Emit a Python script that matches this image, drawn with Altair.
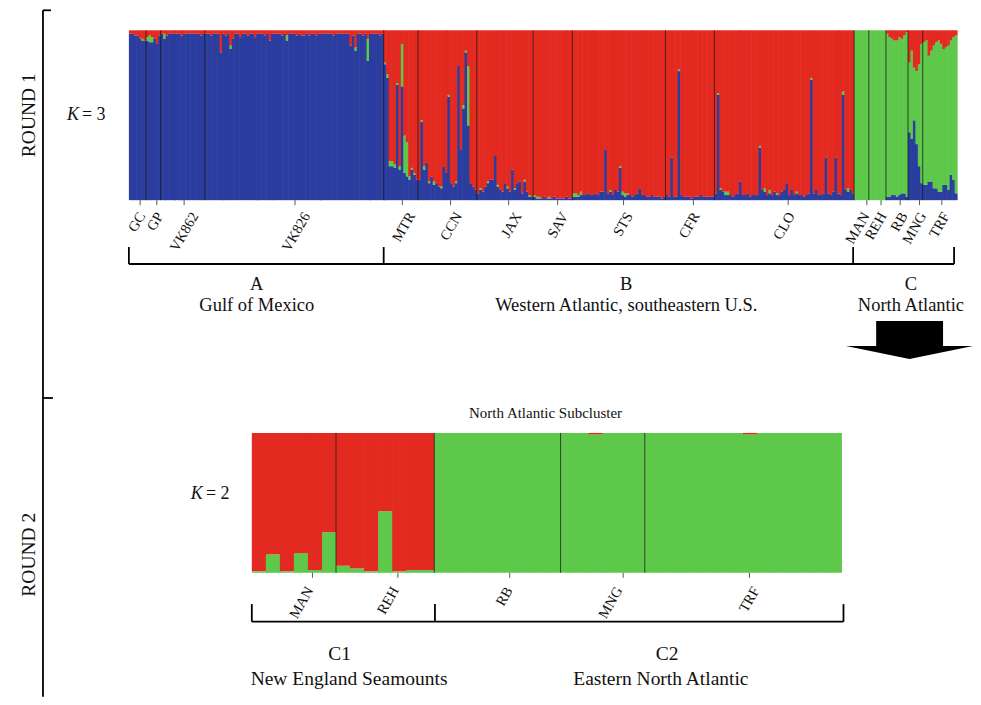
import altair as alt
import pandas as pd

BLUE, GREEN, RED = "#2b3d9e", "#5ec84b", "#e32a20"
FONT = "Liberation Serif"
INK = "#111111"

# ---------------- Round 1 (K = 3) : ancestry proportions in % ----------------
pops1 = ["GC", "GP", "VK862", "VK826", "MTR", "CCN", "JAX", "SAV", "STS",
         "CFR", "CLO", "MAN", "REH", "RB", "MNG", "TRF"]

blue1 = {
    "GC": [98, 98, 97, 97, 95, 94, 94],
    "GP": [94, 93, 93, 95, 92, 97],
    "VK862": [98, 95, 97, 98, 98, 98, 98, 98, 97, 98, 98, 98, 98, 98, 98, 98, 97, 98],
    "VK826": [98, 98, 97, 98, 98, 98, 87, 98, 97, 98, 89, 95, 98, 98, 96, 98, 98, 97, 98, 98,
              96, 98, 98, 98, 97, 98, 94, 98, 98, 98, 98, 97, 98, 94, 98, 98, 98, 97, 98, 97,
              97, 98, 97, 98, 98, 97, 98, 98, 98, 98, 98, 98, 97, 98, 98, 98, 98, 98, 98, 91,
              97, 88, 98, 98, 97, 98, 82, 98, 98, 98, 98, 97, 98],
    "MTR": [80, 72, 20, 20, 19, 68, 18, 67, 16, 14, 12, 18, 15, 12],
    "CCN": [12, 46, 18, 22, 10, 14, 9, 10, 8, 7, 20, 16, 61, 10, 8, 10, 79, 30, 54, 87,
            44, 10, 8, 6],
    "JAX": [4, 6, 5, 8, 10, 12, 12, 26, 8, 6, 5, 10, 7, 5, 18, 6, 10, 11, 4, 11, 5, 2, 2],
    "SAV": [2, 1, 1, 1, 2, 1, 1, 1, 2, 1, 1, 1, 1, 2, 1, 1],
    "STS": [2, 2, 2, 3, 3, 3, 4, 3, 3, 4, 3, 5, 5, 30, 4, 5, 3, 6, 5, 19,
            3, 2, 3, 3, 2, 3, 4, 7, 3, 3, 2, 2, 3, 2, 2, 2, 1, 2],
    "CFR": [3, 2, 25, 2, 2, 76, 3, 2, 2, 2, 1, 2, 2, 2, 3, 2, 2, 2, 2, 2],
    "CLO": [4, 62, 6, 5, 3, 3, 3, 2, 3, 4, 11, 3, 3, 4, 2, 3, 3, 3, 31, 6,
            5, 3, 4, 3, 5, 3, 3, 5, 6, 10, 3, 6, 3, 4, 3, 3, 2, 3, 4, 71,
            4, 6, 3, 3, 4, 25, 4, 3, 5, 25, 4, 3, 62, 6, 5, 6, 4],
    "MAN": [0, 0, 0, 0, 0, 0],
    "REH": [0, 0, 0, 0, 0, 0, 0],
    "RB": [2, 2, 3, 3, 2, 3, 4, 4, 2],
    "MNG": [40, 36, 47, 33, 20, 10],
    "TRF": [9, 9, 11, 11, 7, 7, 5, 5, 9, 9, 6, 15, 12, 4],
}
green1 = {
    "GC": [0, 0, 0, 0, 0, 1, 0],
    "GP": [2, 4, 3, 0, 0, 0],
    "VK862": [0, 3, 0, 0, 0, 0, 0, 0, 0, 0, 0, 0, 0, 0, 0, 0, 0, 0],
    "VK826": [0, 0, 0, 0, 0, 0, 0, 0, 0, 0, 2, 0, 0, 0, 0, 0, 0, 0, 0, 0,
              0, 0, 0, 0, 0, 0, 0, 0, 0, 0, 0, 0, 0, 3, 0, 0, 0, 0, 0, 0,
              0, 0, 0, 0, 0, 0, 0, 0, 0, 0, 0, 0, 0, 0, 0, 0, 0, 0, 0, 0,
              0, 2, 0, 0, 0, 0, 13, 0, 0, 0, 0, 0, 0],
    "MTR": [1, 2, 3, 3, 2, 1, 2, 25, 22, 20, 2, 1, 1, 0],
    "CCN": [0, 1, 2, 0, 1, 0, 2, 0, 0, 1, 0, 0, 1, 0, 0, 1, 0, 0, 2, 1,
            35, 0, 0, 0],
    "JAX": [0, 1, 0, 0, 1, 0, 0, 0, 1, 0, 0, 0, 1, 0, 0, 1, 0, 0, 0, 1, 0, 1, 0],
    "SAV": [1, 1, 1, 0, 0, 0, 1, 0, 0, 0, 0, 0, 0, 0, 0, 0],
    "STS": [2, 2, 1, 2, 0, 0, 0, 0, 0, 0, 0, 0, 0, 0, 0, 1, 0, 0, 0, 1,
            2, 2, 1, 0, 0, 0, 0, 0, 0, 0, 0, 0, 0, 0, 0, 0, 0, 0],
    "CFR": [0, 0, 0, 0, 0, 1, 0, 0, 0, 0, 0, 0, 0, 0, 0, 0, 0, 0, 0, 0],
    "CLO": [0, 1, 1, 0, 2, 2, 0, 0, 0, 0, 0, 0, 0, 0, 0, 0, 0, 0, 1, 0,
            2, 0, 2, 0, 0, 1, 0, 0, 0, 0, 0, 0, 0, 1, 0, 0, 0, 0, 0, 1,
            0, 0, 0, 0, 0, 0, 0, 0, 0, 0, 0, 0, 2, 0, 2, 0, 0],
    "MAN": [100, 100, 100, 100, 100, 100],
    "REH": [100, 100, 100, 100, 100, 100, 100],
    "RB": [96, 94, 92, 91, 92, 93, 91, 93, 97],
    "MNG": [41, 52, 31, 43, 60, 82],
    "TRF": [84, 85, 74, 77, 84, 86, 89, 87, 80, 81, 85, 79, 84, 93],
}
tick_pos1 = [4.6, 11.4, 22.55, 67.8, 111.6, 131.3, 155.0, 175.0, 201.9, 230.4,
             269.1, 301.2, 307.0, 314.8, 322.7, 331.8]
label_pos1 = [3.06, 10.4, 24.67, 70.33, 113.1, 132.3, 156.6, 175.6, 202.0, 229.3,
              268.1, 298.6, 305.5, 314.1, 321.8, 331.3]

groups1 = ["A", "B", "C"]
group_names1 = ["Gulf of Mexico", "Western Atlantic, southeastern U.S.", "North Atlantic"]
group_x1 = [52.2, 203.0, 319.2]
group_edges1 = [0, 104, 295.6, 336.8]

# ---------------- Round 2 (K = 2) : green share in % ----------------
pops2 = ["MAN", "REH", "RB", "MNG", "TRF"]
green2 = {
    "MAN": [1, 13, 1, 14, 2, 29],
    "REH": [5, 3, 1, 44, 1, 2, 2],
    "RB": [100, 100, 100, 100, 100, 100, 100, 100, 100],
    "MNG": [100, 100, 99, 100, 100, 100],
    "TRF": [100, 100, 100, 100, 100, 100, 100, 99, 100, 100, 100, 100, 100, 100],
}
tick_pos2 = [4.32, 10.41, 18.38, 26.46, 35.46]
label_pos2 = [3.74, 9.83, 17.94, 25.77, 35.53]

groups2 = ["C1", "C2"]
group_names2 = ["New England Seamounts", "Eastern North Atlantic"]
group_x2 = [6.26, 29.6]
group_name_x2 = [6.93, 29.15]
group_edges2 = [0, 13.05, 42.16]

# ---------------- build tables ----------------
rows1, bounds1, i = [], [], 0
for p in pops1:
    bl, gr = blue1[p], green1[p]
    for k, b in enumerate(bl):
        g = gr[k] if k < len(gr) else 0
        r = max(100 - b - g, 0)
        rows1 += [{"idx": i, "comp": "blue", "val": b, "order": 0},
                  {"idx": i, "comp": "green", "val": g, "order": 1},
                  {"idx": i, "comp": "red", "val": r, "order": 2}]
        i += 1
    bounds1.append(i)
n1 = i
bounds1 = bounds1[:-1]
df1 = pd.DataFrame(rows1)

rows2, bounds2, i = [], [], 0
for p in pops2:
    for g in green2[p]:
        rows2 += [{"idx": i, "comp": "green", "val": g, "order": 0},
                  {"idx": i, "comp": "red", "val": 100 - g, "order": 1}]
        i += 1
    bounds2.append(i)
bounds2 = bounds2[:-1]
df2 = pd.DataFrame(rows2)

# ---------------- scales ----------------
W, H1, H2 = 829, 170, 140
xs1 = alt.Scale(domain=[0, n1], nice=False, zero=False)
ys1 = alt.Scale(domain=[0, 100], nice=False, zero=False)
xs2 = alt.Scale(domain=[-8.76, 50.25], nice=False, zero=False)
ys2 = alt.Scale(domain=[0, 100], nice=False, zero=False)
cscale = alt.Scale(domain=["blue", "green", "red"], range=[BLUE, GREEN, RED])


def bars(df, xs, ys, overlap):
    return (alt.Chart(df)
            .transform_stack(stack="val", groupby=["idx"], as_=["y0", "y1"],
                             sort=[alt.SortField("order")])
            .transform_calculate(xe=f"datum.idx + 1 + {overlap}")
            .mark_rect(strokeWidth=0)
            .encode(x=alt.X("idx:Q", scale=xs, axis=None),
                    x2="xe:Q",
                    y=alt.Y("y0:Q", scale=ys, axis=None),
                    y2="y1:Q",
                    color=alt.Color("comp:N", scale=cscale, legend=None),
                    order=alt.Order("idx:Q")))


def divider(bounds, xs, ys):
    d = pd.DataFrame({"b": bounds, "lo": 0, "hi": 100})
    return alt.Chart(d).mark_rule(color="#1a1a1a", strokeWidth=1, opacity=0.75).encode(
        x=alt.X("b:Q", scale=xs, axis=None), y=alt.Y("lo:Q", scale=ys, axis=None), y2="hi:Q")


def pop_ticks(pos, lpos, names, xs, ys, tick_len, label_y):
    d = pd.DataFrame({"x": pos, "lx": lpos, "t": names, "lo": 0, "hi": -tick_len,
                      "ly": label_y})
    base = alt.Chart(d)
    ticks = base.mark_rule(color="#555555", strokeWidth=1).encode(
        x=alt.X("x:Q", scale=xs, axis=None), y=alt.Y("lo:Q", scale=ys, axis=None), y2="hi:Q")
    labels = base.mark_text(font=FONT, fontSize=14.5, color=INK, angle=300,
                            align="right", baseline="top").encode(
        x=alt.X("lx:Q", scale=xs, axis=None), y=alt.Y("ly:Q", scale=ys, axis=None), text="t:N")
    return ticks + labels


def segments(d, xs, ys, width=1.8):
    return alt.Chart(pd.DataFrame(d)).mark_rule(color="black", strokeWidth=width).encode(
        x=alt.X("x:Q", scale=xs, axis=None), x2="x2:Q",
        y=alt.Y("y:Q", scale=ys, axis=None), y2="y2:Q")


def texts(d, xs, ys, size, **kw):
    return alt.Chart(pd.DataFrame(d)).mark_text(font=FONT, fontSize=size, color=INK, **kw).encode(
        x=alt.X("x:Q", scale=xs, axis=None), y=alt.Y("y:Q", scale=ys, axis=None), text="t:N")


# ---------------- Round 1 panel ----------------
e = group_edges1
seg1 = {
    "x":  [e[0], e[0], e[1], e[2], e[3], -35.06, -35.06, -35.06],
    "x2": [e[3], e[0], e[1], e[2], e[3], -35.06, -31.8, -31.0],
    "y":  [-37.6, -27.6, -27.6, -27.6, -27.6, 111.8, 111.8, -116.5],
    "y2": [-37.6, -37.6, -37.6, -37.6, -37.6, -292.4, 111.8, -116.5],
}
shaft = pd.DataFrame({"x": [305.0], "x2": [332.3], "y": [-71.2], "y2": [-85.9]})
head = pd.DataFrame({"x": [292.7, 318.6, 344.5], "y": [-85.9, -85.9, -85.9],
                     "y2": [-85.9, -93.5, -85.9]})

top = alt.layer(
    bars(df1, xs1, ys1, 0.25),
    divider(bounds1, xs1, ys1),
    pop_ticks(tick_pos1, label_pos1, pops1, xs1, ys1, 2.94, -5.9),
    segments(seg1, xs1, ys1),
    alt.Chart(shaft).mark_rect(color="black").encode(
        x=alt.X("x:Q", scale=xs1, axis=None), x2="x2:Q",
        y=alt.Y("y:Q", scale=ys1, axis=None), y2="y2:Q"),
    alt.Chart(head).mark_area(color="black").encode(
        x=alt.X("x:Q", scale=xs1, axis=None),
        y=alt.Y("y:Q", scale=ys1, axis=None), y2="y2:Q"),
    texts({"x": group_x1, "y": [-52.9] * 3, "t": groups1}, xs1, ys1, 18.5,
          align="center", baseline="alphabetic"),
    texts({"x": group_x1, "y": [-65.3] * 3, "t": group_names1}, xs1, ys1, 18.5,
          align="center", baseline="alphabetic"),
    texts({"x": [-40.77, -40.77], "y": [50, -208.8], "t": ["ROUND 1", "ROUND 2"]},
          xs1, ys1, 19.5, align="center", baseline="middle", angle=270),
    texts({"x": [-22.83], "y": [47], "t": ["K"]}, xs1, ys1, 18,
          align="center", baseline="alphabetic", fontStyle="italic"),
    texts({"x": [-19.16], "y": [47], "t": ["= 3"]}, xs1, ys1, 18,
          align="left", baseline="alphabetic"),
).properties(width=W, height=H1)

# ---------------- Round 2 panel ----------------
f = group_edges2
seg2 = {
    "x":  [f[0], f[0], f[1], f[2]],
    "x2": [f[2], f[0], f[1], f[2]],
    "y":  [-35, -22.4, -22.4, -22.4],
    "y2": [-35, -35, -35, -35],
}
bottom = alt.layer(
    bars(df2, xs2, ys2, 0.05),
    divider(bounds2, xs2, ys2),
    pop_ticks(tick_pos2, label_pos2, pops2, xs2, ys2, 3.57, -8.6),
    segments(seg2, xs2, ys2),
    texts({"x": group_x2, "y": [-62.1] * 2, "t": groups2}, xs2, ys2, 19.5,
          align="center", baseline="alphabetic"),
    texts({"x": group_name_x2, "y": [-80] * 2, "t": group_names2}, xs2, ys2, 19.5,
          align="center", baseline="alphabetic"),
    texts({"x": [20.93], "y": [110.7], "t": ["North Atlantic Subcluster"]}, xs2, ys2, 15,
          align="center", baseline="alphabetic"),
    texts({"x": [-3.92], "y": [52.9], "t": ["K"]}, xs2, ys2, 18,
          align="center", baseline="alphabetic", fontStyle="italic"),
    texts({"x": [-3.27], "y": [52.9], "t": ["= 2"]}, xs2, ys2, 18,
          align="left", baseline="alphabetic"),
).properties(width=W, height=H2)

chart = (alt.vconcat(top, bottom, spacing=233, bounds="flush")
         .resolve_scale(x="independent", y="independent")
         .properties(padding={"left": 11, "top": 1, "right": 0, "bottom": 0},
                     background="white")
         .configure_view(stroke=None))

chart.save("out.html", embed_options={"renderer": "svg", "actions": False})
